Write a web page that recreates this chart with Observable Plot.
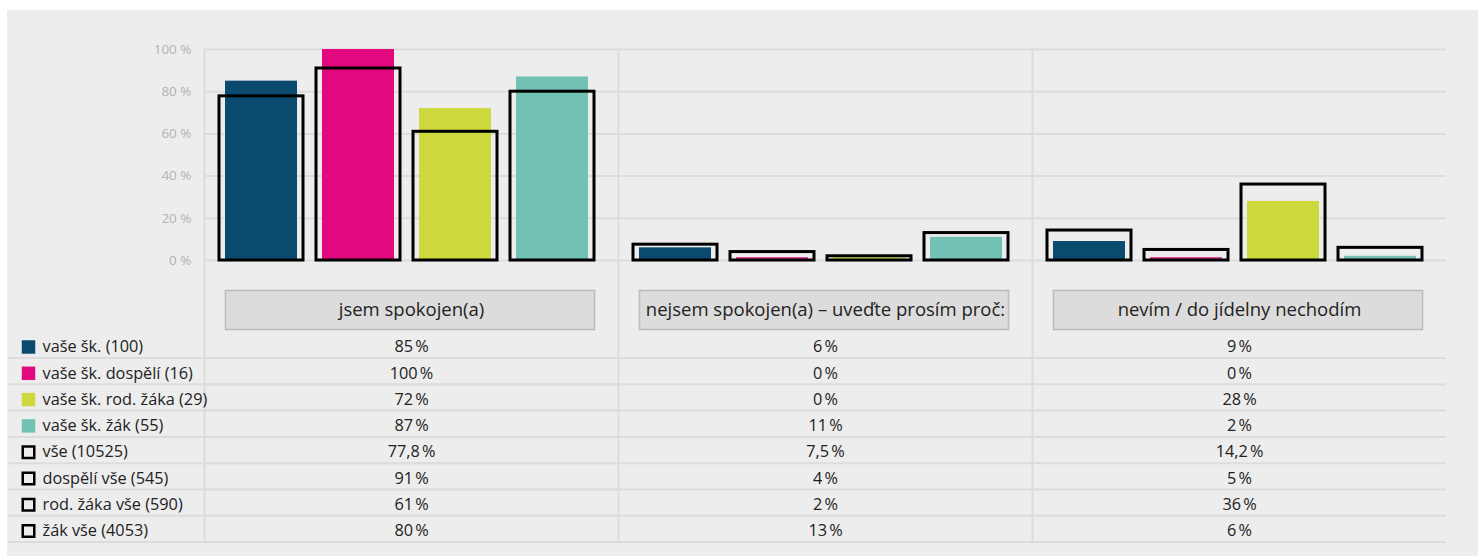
<!DOCTYPE html>
<html><head><meta charset="utf-8">
<script src="https://cdn.jsdelivr.net/npm/d3@7"></script>
<script src="https://cdn.jsdelivr.net/npm/@observablehq/plot@0.6"></script>
<style>
html,body{margin:0;padding:0;background:#fff;}
#panel{position:absolute;left:7px;top:10px;width:1471px;height:546px;background:#ededed;}
#panel svg{display:block;}
</style></head><body><div id="panel"></div>
<script>
// ---- data ----
const categories = ["jsem spokojen(a)", "nejsem spokojen(a) – uveďte prosím proč:", "nevím / do jídelny nechodím"];
const schoolSeries = ["vaše šk. (100)", "vaše šk. dospělí (16)", "vaše šk. rod. žáka (29)", "vaše šk. žák (55)"];
const allSeries = ["vše (10525)", "dospělí vše (545)", "rod. žáka vše (590)", "žák vše (4053)"];
const seriesColors = ["#0b4a6f", "#e2097e", "#cdd83c", "#71c2b5"];
const schoolValues = [[85, 6, 9], [100, 0, 0], [72, 0, 28], [87, 11, 2]];
const allValues = [[77.8, 7.5, 14.2], [91, 4, 5], [61, 2, 36], [80, 13, 6]];
const yTicks = [0, 20, 40, 60, 80, 100];

// ---- build tables ----
const fmt = v => String(v).replace(".", ",") + "\u202F%";
const fmtTick = v => v + " %";
const school = schoolSeries.flatMap((s, i) => categories.map((c, j) => ({category: c, series: s, slot: i, value: schoolValues[i][j]})));
const all = allSeries.flatMap((s, i) => categories.map((c, j) => ({category: c, series: s, slot: i, value: allValues[i][j]})));
const tableRows = [...schoolSeries.map(s => ({label: s, kind: "school", data: school.filter(d => d.series === s)})),
                   ...allSeries.map(s => ({label: s, kind: "all", data: all.filter(d => d.series === s)}))];

// ---- layout (styles) ----
const W = 1471, H = 546, ML = 196, MR = 31, MT = 39, MB = 296;
const ROW0 = 86.5, ROWH = 26.3;
const first = () => categories[0];
const textColor = "#222";
const lineColor = "#dcdcdc";
const tableFont = 16.3;

const marks = [
  Plot.gridY(yTicks, {stroke: lineColor, strokeOpacity: 1, strokeWidth: 2}),
  Plot.frame({anchor: "left", stroke: lineColor, strokeOpacity: 1, strokeWidth: 2, insetBottom: -281}),
  Plot.axisY(yTicks, {label: null, tickSize: 0, tickPadding: 13, tickFormat: fmtTick, fill: "#b3b3b3", fontSize: 13.5}),
  Plot.frame({fill: "#dcdcdc", stroke: "#bcbcbc", strokeWidth: 1.5, insetLeft: 21, insetRight: 24, insetTop: 241, insetBottom: -69}),
  Plot.text(categories, {fx: d => d, text: d => d, frameAnchor: "bottom", lineAnchor: "middle", dy: 49.5, fontSize: 18.5, fill: textColor}),
  Plot.barY(school, {fx: "category", x: "slot", y: "value", fill: "series", insetLeft: 6, insetRight: 6}),
  Plot.tickY(school.filter(d => d.value === 0), {fx: "category", x: "slot", y: "value", stroke: "series", strokeWidth: 1.5, dy: -2.5, insetLeft: 6, insetRight: 6}),
  Plot.barY(all, {fx: "category", x: "slot", y: "value", fill: "none", stroke: "#000", strokeWidth: 3})
];

tableRows.forEach((row, k) => {
  const dy = ROW0 + ROWH * k;
  marks.push(Plot.ruleY([0], {stroke: lineColor, strokeWidth: 2, dy: dy + 11}));
  marks.push(Plot.ruleY([0], {fx: first, stroke: lineColor, strokeWidth: 2, dy: dy + 11, insetLeft: -ML}));
  marks.push(Plot.text(row.data, {fx: "category", text: d => fmt(d.value), frameAnchor: "bottom", lineAnchor: "middle", dy, fontSize: tableFont, fill: textColor}));
  if (row.kind === "school") {
    marks.push(Plot.dot([row.label], {fx: first, frameAnchor: "bottom-left", dx: -176, dy, symbol: "square", r: 7.6, fill: d => d}));
  } else {
    marks.push(Plot.dot([row.label], {fx: first, frameAnchor: "bottom-left", dx: -176, dy, symbol: "square", r: 6.5, fill: "none", stroke: "#000", strokeWidth: 2.5}));
  }
  marks.push(Plot.text([row.label], {fx: first, text: d => d, frameAnchor: "bottom-left", lineAnchor: "middle", dx: -162, dy, textAnchor: "start", fontSize: tableFont, fill: textColor}));
});

const chart = Plot.plot({
  width: W, height: H,
  marginLeft: ML, marginRight: MR, marginTop: MT, marginBottom: MB,
  fx: {domain: categories, padding: 0, axis: null},
  x: {type: "band", domain: [0, 1, 2, 3], paddingInner: 0.133, paddingOuter: 0.182, align: 0.38, axis: null},
  y: {domain: [0, 100]},
  color: {domain: schoolSeries, range: seriesColors},
  style: {fontFamily: "'Open Sans', sans-serif", background: "transparent", overflow: "visible", color: textColor},
  marks
});
document.getElementById("panel").appendChild(chart);
</script>
</body></html>
